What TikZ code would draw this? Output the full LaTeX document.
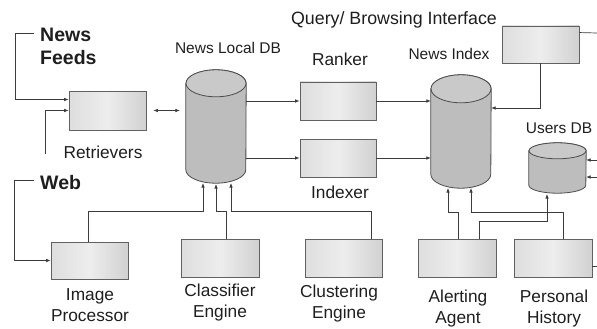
\documentclass[tikz,border=0pt]{standalone}
\usepackage{fontspec}
\setmainfont{Liberation Sans}
\usetikzlibrary{arrows.meta,calc}
\definecolor{lnc}{HTML}{3C3C3C}
\definecolor{txc}{HTML}{1E1E1E}
\newcommand\mycyl[3]{%
  \path[cylbody] (#1.north west) -- (#1.south west)
    arc[start angle=180,end angle=360,x radius=#2,y radius=#3]
    -- (#1.north east)
    arc[start angle=0,end angle=180,x radius=#2,y radius=#3] -- cycle;
  \path[cyltop] (#1.north) ellipse[x radius=#2,y radius=#3];}
\begin{document}
\begin{tikzpicture}[x=1pt,y=-1pt,
  proc/.style={draw=black!62, line width=0.9pt, rectangle, inner sep=0pt,
    left color=black!13, right color=black!18, middle color=black!7,
    minimum width=77pt, minimum height=38pt},
  cylnode/.style={rectangle, inner sep=0pt},
  cylbody/.style={draw=black!70, line width=0.8pt, fill=black!26},
  cyltop/.style={draw=black!70, line width=0.8pt, fill=black!21},
  conn/.style={draw=lnc, line width=0.7pt},
  arr/.style={conn, -{Latex[length=4.5pt,width=3.6pt]}},
  darr/.style={conn, {Latex[length=4.5pt,width=3.6pt]}-{Latex[length=4.5pt,width=3.6pt]}},
  lab/.style={text=txc, font=\fontsize{17.3}{21}\selectfont, align=center, inner sep=0pt},
  slab/.style={text=txc, font=\fontsize{15.5}{19}\selectfont, align=center, inner sep=0pt},
  blab/.style={text=txc, font=\bfseries\fontsize{19.5}{23}\selectfont, align=left, inner sep=0pt, anchor=north west}]
\useasboundingbox (0,0) rectangle (597,329);

% process boxes
\node[proc, minimum width=77pt, minimum height=39pt] (ret) at (107.5,110.5) {};
\node[proc, minimum width=76pt] (rank) at (338,101) {};
\node[proc, minimum width=76pt] (indx) at (338,158) {};
\node[proc, minimum height=37pt] (query) at (540.5,44.5) {};
\node[proc, minimum height=37pt] (imgp) at (89.5,260.5) {};
\node[proc, minimum width=78pt] (clas) at (220,258) {};
\node[proc] (clus) at (343.5,258) {};
\node[proc, minimum width=78pt] (alert) at (457,258) {};
\node[proc, minimum width=78pt] (pers) at (553,258) {};

% cylinders
\node[cylnode, minimum width=60pt, minimum height=86pt] (ldb) at (216,126.5) {};
\mycyl{ldb}{30pt}{13.5pt}
\node[cylnode, minimum width=60pt, minimum height=85pt] (nidx) at (461,131.5) {};
\mycyl{nidx}{30pt}{14pt}
\node[cylnode, minimum width=57pt, minimum height=34pt] (udb) at (557.5,168) {};
\mycyl{udb}{28.5pt}{8pt}

% labels
\node[blab] (feeds) at (40,28) {News\\Feeds};
\node[blab] (web) at (40,175) {Web};
\node[lab] (lret) at (103,152) {Retrievers};
\node[slab] (lldb) at (228,48) {News Local DB};
\node[lab] (lrank) at (340,59) {Ranker};
\node[lab] (lindx) at (340,192) {Indexer};
\node[lab, font=\fontsize{17.8}{21}\selectfont] (lquery) at (394,20) {Query/ Browsing Interface};
\node[slab] (lnidx) at (449,54) {News Index};
\node[slab] (ludb) at (559,128) {Users DB};
\node[lab] (limgp) at (90,305.5) {Image\\Processor};
\node[lab] (lclas) at (220,303) {Classifier\\Engine};
\node[lab] (lclus) at (339,303.5) {Clustering\\Engine};
\node[lab] (lalert) at (458,308.5) {Alerting\\Agent};
\node[lab] (lpers) at (554,308.5) {Personal\\History};

% free ends
\coordinate (nfin) at (34,33);
\coordinate (rin) at (45,154);
\coordinate (webin) at (34,180);
\coordinate (qout) at (597,33);
\coordinate (u1) at (597,160);
\coordinate (u2) at (597,177);
\coordinate (pout) at (597,266);
\coordinate (ldb1) at (203,183);
\coordinate (ldb2) at (216,184);
\coordinate (ldb3) at (231,183);
\coordinate (nidx1) at (448,188);
\coordinate (nidx2) at (471,188);
\coordinate (udb1) at (547,194);

% connectors
\draw[arr] (nfin) -- (15,33) |- ($(ret.west)+(0,-11)$);
\draw[arr] (rin) |- (ret.west);
\draw[darr] ($(ret.east)+(7,0)$) -- ($(ret.east -| ldb.west)+(-6,0)$);
\draw[arr] (ldb.east |- rank.west) -- (rank.west);
\draw[arr] (ldb.east |- indx.west) -- (indx.west);
\draw[arr] (rank.east) -- (rank.east -| nidx.west);
\draw[arr] (indx.east) -- (indx.east -| nidx.west);
\draw[arr] (query.south) |- ($(nidx.east)+(0,-23.5)$);
\draw[conn] ($(query.north east)+(0,7)$) -- (qout);
\draw[arr] (u1) -- (udb.east |- u1);
\draw[arr] (u2) -- (udb.east |- u2);
\draw[conn] ($(pers.east)+(0,8)$) -- (pout);
\draw[arr] (webin) -- (14,180) |- (imgp.west);
\draw[arr] ($(imgp.north)+(-1.5,0)$) -- ++(0,-30) -| (ldb1);
\draw[arr] ($(clas.north)+(6,0)$) -- ++(0,-27) -| (ldb2);
\draw[arr] ($(clus.north)+(27.5,0)$) -- ++(0,-27) -| (ldb3);
\draw[arr] ($(alert.north)+(1,0)$) -- ++(0,-26) -| (nidx1);
\draw[arr] ($(alert.north)+(22,0)$) -- ++(0,-17) -| (udb1);
\draw[arr] ($(pers.north)+(10,0)$) -- ++(0,-26) -| (nidx2);
\end{tikzpicture}
\end{document}
